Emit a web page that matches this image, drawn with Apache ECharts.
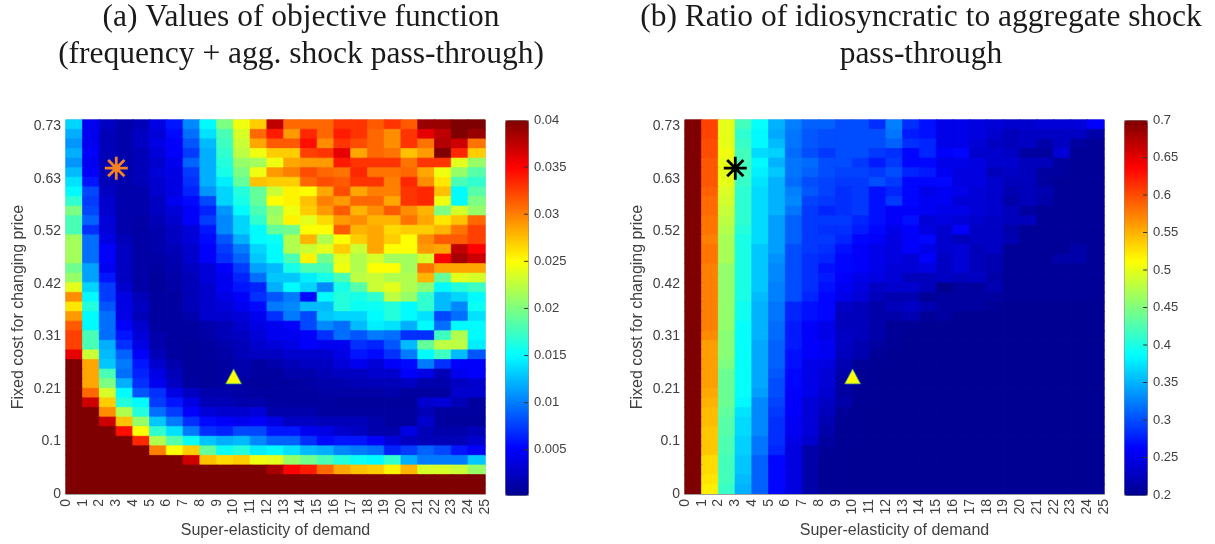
<!DOCTYPE html>
<html><head><meta charset="utf-8">
<style>html,body{margin:0;padding:0;background:#fff}#c{width:1215px;height:544px}</style>
<script src="https://cdn.jsdelivr.net/npm/echarts@6/dist/echarts.min.js"></script>
</head><body><div id="c"></div>
<script>
const xTicks=[0,1,2,3,4,5,6,7,8,9,10,11,12,13,14,15,16,17,18,19,20,21,22,23,24,25];
const yTicks=['0','0.1','0.21','0.31','0.42','0.52','0.63','0.73'];
const objTicks=[0.005,0.01,0.015,0.02,0.025,0.03,0.035,0.04];
const ratioTicks=[0.2,0.25,0.3,0.35,0.4,0.45,0.5,0.55,0.6,0.65,0.7];
const jet=['#00008f','#0000ff','#007fff','#00ffff','#7fff7f','#ffff00','#ff7f00','#ff0000','#7f0000'];
// objective function, thousandths, top row first
const objectiveRows=[
[13.5,4.5,2.5,1.5,2,4,6,10.5,15,20,24.5,27,37.5,31,31,31,33,33,31.5,33,31.5,39,39,40,40],
[12,4.5,2,1.5,2.5,3.5,5.5,9.5,14,18,23.5,31,34,29,33.5,31,34,33,31,29.5,33,36,37.5,40,39],
[11,4.5,2,1.5,2.5,4,5,8.5,12.5,17.5,23,28.5,31.5,31.5,34.5,29.5,33,32,31,29.5,33,30.5,38,37,30.5],
[12,5,2,1.5,2,3.5,5,7.5,12,17,22.5,24.5,27,27,32.5,33,36,28.5,31,30.5,27.5,29,40,33.5,27],
[11,4.5,2,1.5,2,3,4.5,9,12,16.5,21,21.5,24.5,28.5,29,29,34,33,33,33,30.5,33,33,24,21],
[12.5,5,2,1.5,2,3.5,4,7.5,12,16,20,24.5,29,30,32,31,30.5,33.5,30.5,30.5,31,28.5,24.5,21,18.5],
[14,6,2,1.5,2,3,4,7,12,14.5,19,27.5,27,27,31,32,31.5,33,33,30,33.5,29.5,26,18,17],
[15,8,2.5,1.5,1.5,3,4,6.5,11,13.5,16.5,19,23,25.5,25,28.5,32,28.5,30,30,33,33.5,27.5,15,18.5],
[17,7.5,3,1.5,1.5,2.5,4.5,5.5,8,13.5,16,19,25,25.5,27.5,30,29,31,31,28.5,33,33.5,24.5,15,20],
[20,8,3,1.5,1.5,2.5,3.5,5,6.5,11,15,18,21,24.5,27,29,31.5,28,29.5,31.5,29.5,28,20,23.5,21],
[18,9,3.5,1.5,1.2,2,3,5,7.5,10.5,13.5,17,21.5,25.5,24,26.5,29,29.5,28,28,30.5,28.5,26,27.5,31],
[18,7,3.5,1.5,1.2,1.7,2.5,3.5,6,10.5,13.5,15,19,19.5,25,25,31.5,28,28.5,26.5,27,27,28,30.5,32.5],
[21.5,9.5,4,2,1.2,1.5,2.5,3.5,5.5,8.5,12,15,15.5,22,28,22,25,27,28.5,27,25,29.5,31.5,31.5,32.5],
[21.5,9.5,5,2.5,1.2,1.5,2,3,5,7.5,10,13.5,15,22,23,24,27,23,28.5,25,25,29,28.5,37.5,35],
[21.5,9.5,5,2.5,1.2,1.3,1.7,3,5,7,9,13,15,18,25.5,19.5,24,22,23.5,21.5,21.5,23.5,35,38.5,37],
[19.5,11.5,4.5,2.5,1.2,1,1.5,2.5,3.5,5,7.5,11.5,12.5,16,18,18,24.5,22,25,25,21.5,30.5,28.5,28.5,28.5],
[21,11.5,6,2.5,1.2,0.8,1.3,2,3.5,4.5,6.5,9.5,13,13,14.5,16,18,22.5,23,22,22,28,19,24,23.5],
[24,13.5,7.5,3,1.2,0.8,1.2,2,3,4.5,6,6.5,12,15,13.5,10.5,16,18.5,23,24,22,20.5,15,16.5,17.5],
[29.5,15,7.5,4,2,1,1,2,3,4,5,7,8.5,10,5.5,15,16.5,16,17,22.5,21,17,12.5,13.5,15],
[26,16.5,8.5,4,2.5,1,1,2,3,3.5,4.5,5.5,10,10.5,12.5,12.5,16.5,15.5,15.5,16.5,15,17,12.5,10.5,15.5],
[29,15,9.5,4,2,1,1,1.5,3,3,3.5,4.5,7,10,8,13,13.5,13.5,15,16.5,15,14,8,9.5,14],
[31.5,15,9.5,5,3,1,1,1,1.5,2,3,4,4.5,5,8,10.5,9.5,12.5,14.5,14,12,15,9.5,15,15],
[32.5,18,9.5,6,3.5,1.5,1,1,1.2,2,2.5,3.5,4.5,4.5,5,7,9.5,8.5,10,9.5,7,7,17.5,22,15],
[32.5,18,12,7,4,1.5,1,0.8,1,1.5,2,3,3.5,4,5,4.5,4.5,7,6.5,8.5,12.5,19,22.5,22.5,14.5],
[36,23,12.5,9,5,2,1,0.8,1,1.2,2,2.5,2.5,3,3,3,4,6,5.5,7,10,15,17.5,12.5,8.5],
[40,28.5,13,10,6,3,1.5,0.8,0.8,1,1.5,1,1.5,2,2.5,2.5,3.5,4.5,3.5,5,5.5,10,7,5,5],
[40,28.5,18,9.5,6.5,4,2,0.8,0.8,1,1.5,1,1,1.5,1.5,2,2.5,2.5,3,3,5,4,2,4.5,5],
[40,28.5,20,12,7,4.5,2.5,1,0.8,1,1,0.8,1,1,1.2,1.5,1.5,2,2,2,2.5,1.5,1.5,2.5,3],
[40,31,23.5,15,8.5,7,4,2.5,1.5,1.5,1.2,1,1,1,1,1.2,1.2,1.2,1.2,1.5,1,1,1,3,3],
[40,37,27,16.5,15,7.5,6,4,2,2,1.5,1.5,1,1,1,1,0.8,0.8,0.8,0.8,0.8,3,3.5,2,1],
[40,40,29.5,22,16.5,9.5,7.5,5,3.5,3,3,3.5,1.5,1.5,1.5,1,1,1,1,1,1,2,1,1,1],
[40,40,37,27.5,21,13,10,7,5.5,5,4.5,5,4,2.5,2.5,2,2,2,1.5,1,1,3,1,0.8,0.8],
[40,40,40,34.5,25,17,14,10,7,6.5,8,8,6,6,4.5,4,3,2.5,1.5,1.5,4,2,1.5,1.5,2],
[40,40,40,40,33.5,22,18.5,15.5,13,12,12.5,10.5,9,9,7,5.5,6,6,5,3.5,2.5,2,2,2,3],
[40,40,40,40,40,30,25,27,19,15.5,16.5,14.5,15,14,12.5,12,10.5,10,9.5,6.5,7.5,9,8,6,5],
[40,40,40,40,40,40,40,37,27.5,26.5,27,24.5,24,21,19.5,18,16.5,15.5,15,17,12,10,10,10,13],
[40,40,40,40,40,40,40,40,40,40,40,40,38.5,35,34,31,28.5,27.5,27,25.5,28,23.5,23.5,23,21],
[40,40,40,40,40,40,40,40,40,40,40,40,40,40,40,40,40,40,40,40,40,40,40,40,40],
[40,40,40,40,40,40,40,40,40,40,40,40,40,40,40,40,40,40,40,40,40,40,40,40,40]
];
// idiosyncratic / aggregate ratio, hundredths, top row first
const ratioRows=[
[70,60.5,50,42,39,35,32.5,31,31,30,30,28.5,32.5,28.5,27,25,25,24.5,24,23.5,23.5,24,24,24,26],
[70,60.5,50,41,38.5,34.5,32,30.5,30,30,30,30,32,27.5,27,25,25,24.5,23.5,22.5,23,23,23,23,21.5],
[70,60,50,41.5,38.5,35.5,32,30.5,30,30,30,30,31,28.5,28,25,25,24,23,22.5,23,21.5,23,21,20.5],
[70,60,50.5,42,37,36.5,31.5,30,29,30,30,29,28.5,26.5,28,26,26.5,23.5,23.5,23,21,21,24,20.5,20.5],
[70,59.5,50,42,38.5,35,32,31.5,30,30,29,27.5,29,26.5,26.5,25,25,24.5,23.5,23.5,22.5,22.5,21,20.5,20.5],
[70,59.5,50,42,38,36,32,31,30,29.5,29.5,29,30,28,27.5,25.5,24.5,24.5,22.5,23,22.5,21,21,20.5,20.5],
[70,59.5,50,41.5,37.5,35,31.5,30,29.5,29,29,30,29,26.5,26.5,26.5,24.5,24.5,23.5,22.5,22.5,21,20.5,20.5,20.5],
[70,59,49.5,41,37,35,32.5,30.5,29.5,28.5,29,27,28,26.5,25,25.5,25,24,23.5,22,22.5,22,20.5,20.5,20.5],
[70,58.5,49,41,37,35,33,29.5,29,28.5,29,27,29,26.5,25.5,25.5,24,24,23.5,21.5,22.5,21.5,20.5,20.5,20.5],
[70,58.5,48.5,41,37,35,32,29,28,28.5,29,27,26,26,25.5,25,25,24,23.5,22.5,21,20.5,20.5,20.5,20.5],
[70,58,48,41,37,34,31,29,29,29,28,27,26,27,24,24.5,24,23.5,23,22.5,22.5,20.5,20.5,20.5,20.5],
[70,58,47.5,40.5,37,34,31,29,28.5,28.5,27.5,26.5,25,26,24.5,23.5,26,23,23,21.5,20.5,20.5,20.5,20.5,20.5],
[70,57.5,47,40,37,34,31,29,29,28,26.5,26,24.5,26,26.5,23.5,22.5,23,23,22,20.5,20.5,20.5,20.5,20.5],
[70,58,47,40,36,34,30,29,28.5,27,26,25,24.5,26,25,23.5,24,22.5,23,20.5,20.5,20.5,20.5,21.5,20.5],
[70,58,47,40,36,33.5,30,28.5,28,26.5,26,25,24.5,24,26,23,24,22.5,22,20.5,20.5,20.5,21.5,21.5,20.5],
[70,57.5,46,40,36,33,30,28.5,27,26.5,26,25,24,24,24.5,23,24,22.5,22,20.5,20.5,20.5,20.5,20.5,20.5],
[70,57.5,46,40,36,33,30,28.5,27.5,26,25,24.5,24,22.5,22.5,23,22.5,23,21.5,20.5,20.5,20.5,20.5,20.5,20.5],
[70,57.5,46,40,36,32.5,30,28.5,27,25.5,24.5,23,23.5,23.5,22.5,20,21,21,22,20.5,20.5,20.5,20.5,20.5,20.5],
[70,57.5,46,40,35.5,32.5,30,28,26.5,25,24,22.5,22,22,20.5,21,21,21,21,20.5,20.5,20.5,20.5,20.5,20.5],
[70,57.5,46,39.5,35,32,28,27,26.5,23,22.5,21.5,22.5,23,22,21,21,21,20.5,20.2,20.2,20.2,20.2,20.2,20.2],
[70,57.5,46,39.5,35,32,28,27,26.5,22.5,22.5,21.5,21.5,22,20.5,21,20.2,20.2,20.2,20.2,20.2,20.2,20.2,20.2,20.2],
[70,57.5,46,39,35,31.5,27.5,26,25,22.5,22.5,21.5,20.5,20.5,20.2,20.2,20.2,20.2,20.2,20.2,20.2,20.2,20.2,20.2,20.2],
[70,57,45.5,39,35,31.5,27.5,26,25,23,22.5,21.5,20.5,20.2,20.2,20.2,20.2,20.2,20.2,20.2,20.2,20.2,20.2,20.2,20.2],
[70,56,45.5,39,34.5,31,27.5,26,25.5,23,22,21,20.5,20.2,20.2,20.2,20.2,20.2,20.2,20.2,20.2,20.2,20.2,20.2,20.2],
[70,56,45.5,39,34.5,31,27,26,25.5,22.5,22,20.5,20.3,20.2,20.2,20.2,20.2,20.2,20.2,20.2,20.2,20.2,20.2,20.2,20.2],
[70,56,45,39,34.5,31,27,25,24.5,22,20.5,20.3,20.3,20.2,20.2,20.2,20.2,20.2,20.2,20.2,20.2,20.2,20.2,20.2,20.2],
[70,56,44,39,34.5,30.5,26.5,25,24,21.5,20.3,20.3,20.2,20.2,20.2,20.2,20.2,20.2,20.2,20.2,20.2,20.2,20.2,20.2,20.2],
[70,56,44,39,34.5,30,26.5,25,24,21,20.3,20.3,20.2,20.2,20.2,20.2,20.2,20.2,20.2,20.2,20.2,20.2,20.2,20.2,20.2],
[70,55.5,44,39,34,30,26,25,23.5,21,20.3,20.3,20.2,20.2,20.2,20.2,20.2,20.2,20.2,20.2,20.2,20.2,20.2,20.2,20.2],
[70,55,44,38.5,33,29.5,26,24,23,21.5,20.3,20.3,20.2,20.2,20.2,20.2,20.2,20.2,20.2,20.2,20.2,20.2,20.2,20.2,20.2],
[70,54.5,43.5,37.5,33,29,26,24,22.5,20.5,20.3,20.2,20.2,20.2,20.2,20.2,20.2,20.2,20.2,20.2,20.2,20.2,20.2,20.2,20.2],
[70,54.5,43,37,33,28.5,25.5,24,22,20.3,20.3,20.2,20.2,20.2,20.2,20.2,20.2,20.2,20.2,20.2,20.2,20.2,20.2,20.2,20.2],
[70,54,43,37,33,28.5,25.5,24,21.5,20.3,20.3,20.2,20.2,20.2,20.2,20.2,20.2,20.2,20.2,20.2,20.2,20.2,20.2,20.2,20.2],
[70,54,42.5,36.5,32,28.5,25,23.5,21,20.3,20.3,20.2,20.2,20.2,20.2,20.2,20.2,20.2,20.2,20.2,20.2,20.2,20.2,20.2,20.2],
[70,54,42.5,36.5,32,28,24.5,21.5,20.5,20.3,20.2,20.2,20.2,20.2,20.2,20.2,20.2,20.2,20.2,20.2,20.2,20.2,20.2,20.2,20.2],
[70,53,42,36,31,26.5,24.5,21.5,20.3,20.3,20.2,20.2,20.2,20.2,20.2,20.2,20.2,20.2,20.2,20.2,20.2,20.2,20.2,20.2,20.2],
[70,53,42,36,31,26.5,24.5,21.5,20.3,20.3,20.2,20.2,20.2,20.2,20.2,20.2,20.2,20.2,20.2,20.2,20.2,20.2,20.2,20.2,20.2],
[70,52.5,42,35.5,31,26.5,24.5,21.5,20.3,20.3,20.2,20.2,20.2,20.2,20.2,20.2,20.2,20.2,20.2,20.2,20.2,20.2,20.2,20.2,20.2],
[70,52,41.5,35,31,26.5,24.5,21.5,20.3,20.3,20.2,20.2,20.2,20.2,20.2,20.2,20.2,20.2,20.2,20.2,20.2,20.2,20.2,20.2,20.2]
];
const starPoint=[3,0.651];
const trianglePoint=[10,0.235];
const yStep=0.105, yMax=0.7473;

const asterisk='path://M0 -10L0 10M-10 0L10 0M-7.07 -7.07L7.07 7.07M-7.07 7.07L7.07 -7.07';
const tc='#404040', font='"Liberation Sans",Arial,sans-serif';
function jetAt(t){
 const p=Math.max(0,Math.min(1,t))*(jet.length-1),i=Math.min(Math.floor(p),jet.length-2),f=p-i;
 const h=s=>[1,3,5].map(k=>parseInt(s.substr(k,2),16));
 const a=h(jet[i]),b=h(jet[i+1]);
 return 'rgb('+a.map((c,n)=>Math.round(c+(b[n]-c)*f)).join(',')+')';
}
function cells(p){const o=[],rows=p.rows;rows.forEach((r,i)=>r.forEach((v,j)=>{
 const val=v/p.div;
 o.push({value:[j,rows.length-1-i,val],itemStyle:{borderWidth:0.7,borderColor:jetAt((val-p.min)/(p.max-p.min))}});
}));return o;}
function idx(n){return Array.from({length:n},(_,i)=>String(i));}
const nCols=objectiveRows[0].length,nRows=objectiveRows.length;

const panels=[
 {left:66,bar:505,rows:objectiveRows,div:1000,min:0.0002,max:0.04,ticks:objTicks,star:'#f58220'},
 {left:685,bar:1124,rows:ratioRows,div:100,min:0.2,max:0.7,ticks:ratioTicks,star:'#000000'}
];
const grid=[],xAxis=[],yAxis=[],series=[],visualMap=[];
panels.forEach((p,k)=>{
 const g0=k*2,g1=k*2+1;
 grid.push({left:p.left,top:120,width:419,height:375,show:true,borderColor:'#b0b0b0',borderWidth:1,backgroundColor:'transparent'});
 grid.push({left:p.bar,top:120,width:23,height:375});
 const xc=xAxis.length;
 xAxis.push({type:'category',gridIndex:g0,data:idx(nCols),show:false});
 xAxis.push({type:'value',gridIndex:g0,min:0,max:25,interval:1,position:'bottom',z:5,
  name:'Super-elasticity of demand',nameLocation:'middle',nameGap:29,nameTextStyle:{color:tc,fontSize:16,fontFamily:font},
  axisLine:{show:true,lineStyle:{color:'#a0a0a0',width:1}},axisTick:{show:false},splitLine:{show:false},
  axisLabel:{rotate:90,color:tc,fontSize:14,fontFamily:font,margin:5,hideOverlap:false,showMinLabel:true,showMaxLabel:true,formatter:v=>String(xTicks[v])}});
 xAxis.push({type:'value',gridIndex:g1,min:0,max:1,show:false});
 const yc=yAxis.length;
 yAxis.push({type:'category',gridIndex:g0,data:idx(nRows),show:false});
 yAxis.push({type:'value',gridIndex:g0,position:'left',min:0,max:yMax,interval:yStep,z:5,
  name:'Fixed cost for changing price',nameLocation:'middle',nameGap:39,nameTextStyle:{color:tc,fontSize:16,fontFamily:font},
  axisLine:{show:false},axisTick:{show:false},splitLine:{show:false},
  axisLabel:{color:tc,fontSize:14,fontFamily:font,margin:5,showMaxLabel:false,formatter:v=>yTicks[Math.round(v/yStep)]}});
 yAxis.push({type:'value',gridIndex:g1,position:'right',min:p.min,max:p.max,z:5,
  axisLine:{show:false},splitLine:{show:false},axisTick:{show:false},
  axisLabel:{color:tc,fontSize:13,fontFamily:font,margin:6,customValues:p.ticks,formatter:v=>String(v)}});
 series.push({type:'heatmap',xAxisIndex:xc,yAxisIndex:yc,data:cells(p),progressive:0,animation:false,silent:true,emphasis:{disabled:true}});
 visualMap.push({type:'continuous',seriesIndex:series.length-1,min:p.min,max:p.max,dimension:2,calculable:false,
  left:p.bar,top:120,itemWidth:23,itemHeight:375,padding:0,text:null,showLabel:false,
  borderColor:'#8c8c8c',borderWidth:1,inRange:{color:jet},outOfRange:{color:jet}});
 series.push({type:'scatter',xAxisIndex:xc+1,yAxisIndex:yc+1,z:10,animation:false,silent:true,data:[starPoint],symbol:asterisk,symbolSize:23,
  itemStyle:{color:'none',borderColor:p.star,borderWidth:2.8,opacity:1}});
 series.push({type:'scatter',xAxisIndex:xc+1,yAxisIndex:yc+1,z:10,animation:false,silent:true,data:[trianglePoint],symbol:'triangle',symbolSize:[16,15],
  itemStyle:{color:'#ffff00',borderColor:'#2a8f9a',borderWidth:0.8,opacity:1}});
 series.push({type:'scatter',xAxisIndex:xc+2,yAxisIndex:yc+2,z:10,zlevel:1,animation:false,silent:true,clip:false,
  data:p.ticks.filter(v=>v>p.min&&v<p.max).map(v=>[0.92,v]),symbol:'rect',symbolSize:[4,1],
  itemStyle:{color:'#333333',opacity:1}});
});
const serif='"Liberation Serif","DejaVu Serif",serif';
const title=[
 {text:'(a) Values of objective function\n(frequency + agg. shock pass-through)',left:296,top:-6,textAlign:'center',
  textStyle:{fontFamily:serif,fontWeight:'normal',fontSize:31.5,lineHeight:37,color:'#1a1a1a'}},
 {text:'(b) Ratio of idiosyncratic to aggregate shock\npass-through',left:916,top:-6,textAlign:'center',
  textStyle:{fontFamily:serif,fontWeight:'normal',fontSize:31.5,lineHeight:37,color:'#1a1a1a'}}
];
const chart=echarts.init(document.getElementById('c'),null,{renderer:'canvas'});
chart.setOption({animation:false,backgroundColor:'#fff',title,grid,xAxis,yAxis,visualMap,series,tooltip:{show:false}});
</script></body></html>
